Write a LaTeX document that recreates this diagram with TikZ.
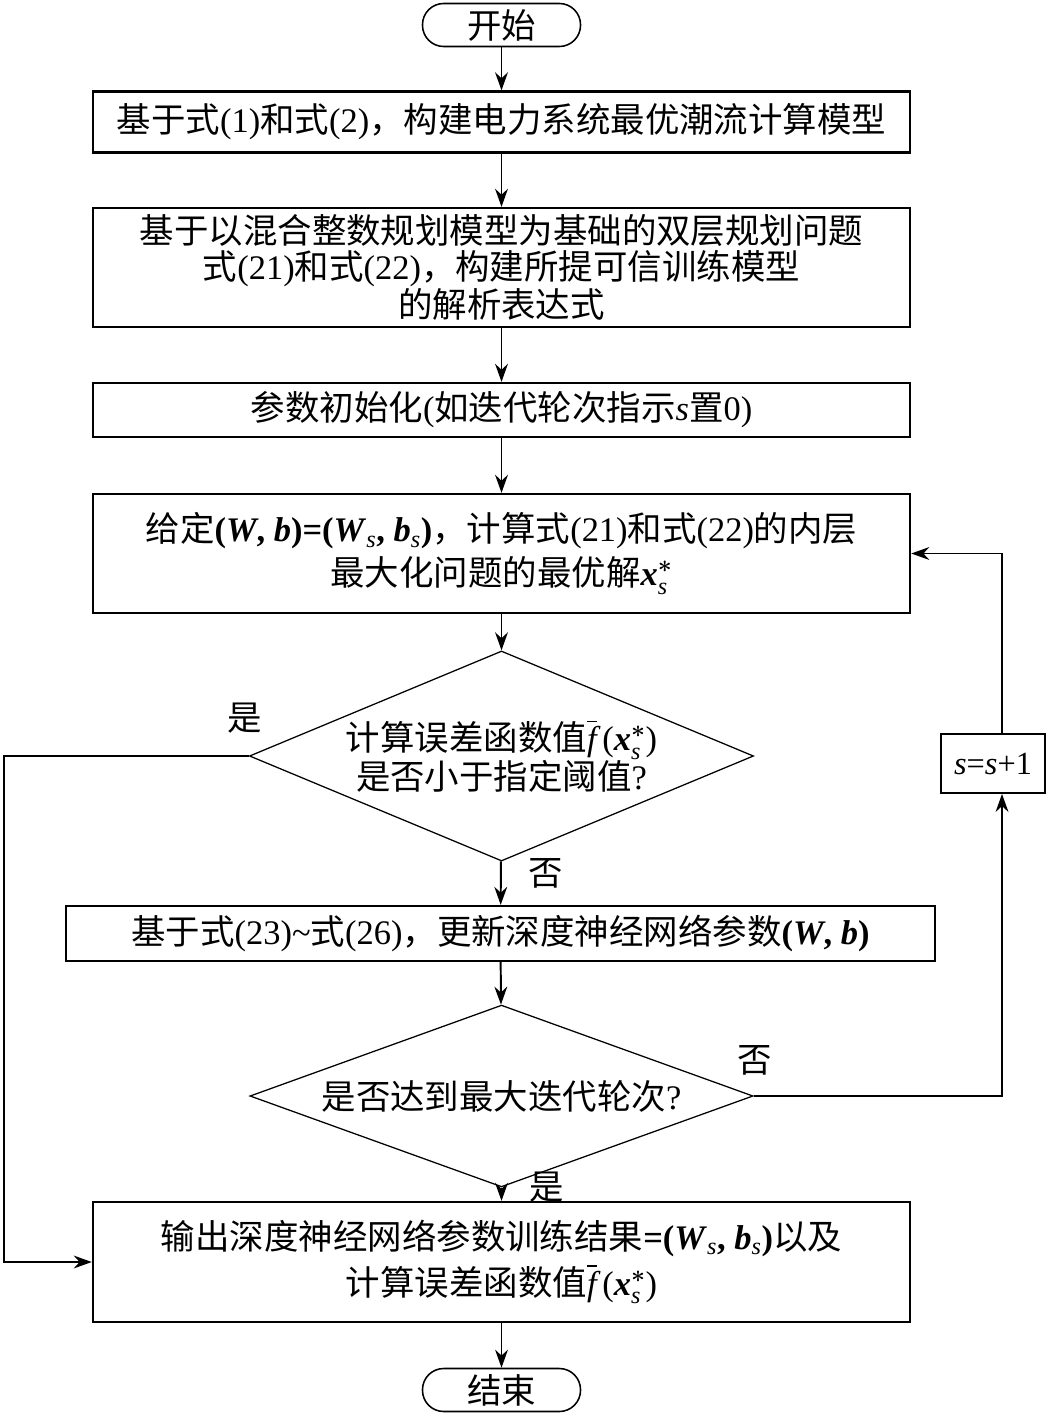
\documentclass[tikz,border=0pt]{standalone}
\usepackage{amsmath}
\usepackage{fontspec}
\setmainfont{Noto Sans CJK SC}
\newfontfamily\tnr{Liberation Serif}
\usepackage{tikz}
\usetikzlibrary{shapes.geometric,arrows.meta,positioning}

\newcommand{\vb}[1]{\text{\tnr\bfseries\itshape #1}}
\newcommand{\ssub}{\text{\tnr\itshape s}}
\newcommand{\fbarx}{$\overline{\text{\tnr\itshape f}}$\,{\tnr(}$\vb{x}_{\ssub}^{\boldsymbol{*}}${\tnr)}}

\tikzset{
  procbox/.style={draw, line width=1.6pt, minimum width=20.425cm, align=center, inner sep=0pt},
  termbox/.style={draw, line width=1.1pt, rounded corners=0.53cm, minimum width=3.95cm, minimum height=1.075cm, inner sep=0pt},
  decbox/.style={draw, diamond, line width=0.9pt, aspect=2.4, inner sep=0pt, align=center},
  flow/.style={->, line width=1.4pt},
  lbl/.style={inner sep=0pt}
}

\begin{document}
\begin{tikzpicture}[x=0.025cm, y=-0.025cm, >={Stealth[length=4.5mm,width=3.2mm]},
  every node/.style={font=\fontsize{24.5}{25.5}\selectfont}]
\useasboundingbox (0,0) rectangle (1047,1417);

\node[termbox] (start) at (501.5,25) {开始};
\node[procbox, minimum height=1.525cm] (b1) at (501.5,122) {基于式{\tnr(1)}和式{\tnr(2)}，构建电力系统最优潮流计算模型};
\node[procbox, minimum height=2.975cm] (b2) at (501.5,267.5) {基于以混合整数规划模型为基础的双层规划问题\\式{\tnr(21)}和式{\tnr(22)}，构建所提可信训练模型\\的解析表达式};
\node[procbox, minimum height=1.35cm] (b3) at (501.5,410) {参数初始化{\tnr(}如迭代轮次指示{\tnr\itshape s}置{\tnr 0)}};
\node[procbox, minimum height=2.975cm] (b4) at (501.5,553.5) {给定{\tnr\bfseries(\textit{W}, \textit{b})=(\textit{W}\textsubscript{\mdseries\itshape s}, \textit{b}\textsubscript{\mdseries\itshape s})}，计算式{\tnr(21)}和式{\tnr(22)}的内层\\[4pt]最大化问题的最优解$\vb{x}_{\ssub}^{\boldsymbol{*}}$};
\node[decbox, minimum width=12.6cm, minimum height=5.25cm] (d1) at (501.5,756) {计算误差函数值\fbarx\\是否小于指定阈值{\tnr ?}};
\node[procbox, minimum width=21.725cm, minimum height=1.375cm] (b5) at (500.5,933.5) {基于式{\tnr(23)\textasciitilde}式{\tnr(26)}，更新深度神经网络参数{\tnr\bfseries(\textit{W}, \textit{b})}};
\node[decbox, minimum width=12.575cm, minimum height=4.275cm] (d2) at (501.5,1096) {是否达到最大迭代轮次{\tnr ?}};
\node[procbox, minimum height=3.0cm] (b6) at (501.5,1262) {输出深度神经网络参数训练结果{\tnr\bfseries=(\textit{W}\textsubscript{\mdseries\itshape s}, \textit{b}\textsubscript{\mdseries\itshape s})}以及\\[4pt]计算误差函数值\fbarx};
\node[termbox] (stop) at (501.5,1390) {结束};
\node[draw, line width=1.3pt, minimum width=2.6cm, minimum height=1.475cm, inner sep=0pt,
  font=\fontsize{23}{25}\selectfont] (inc) at (993,763.5) {{\tnr\itshape s}{\tnr =}{\tnr\itshape s}{\tnr +1}};

% labels
\node[lbl] (yes1) at (245,718) {是};
\node[lbl] (no1) at (546,873) {否};
\node[lbl] (no2) at (755,1060) {否};
\node[lbl] (yes2) at (547,1187) {是};
\coordinate (lx) at (4,0);

\draw[flow] (start) -- (b1);
\draw[flow] (b1) -- (b2);
\draw[flow] (b2) -- (b3);
\draw[flow] (b3) -- (b4);
\draw[flow] (b4) -- (d1);
\draw[flow] (d1) -- (b5);
\draw[flow] (b5) -- (d2);
\draw[flow] (d2) -- (b6);
\draw[flow] (b6) -- (stop);
\draw[flow] (d1.west) -- (d1.west -| lx) |- (b6.west);
\draw[flow] (d2.east) -| ([xshift=0.225cm]inc.south);
\draw[flow] ([xshift=0.225cm]inc.north) |- (b4.east);
\end{tikzpicture}
\end{document}
